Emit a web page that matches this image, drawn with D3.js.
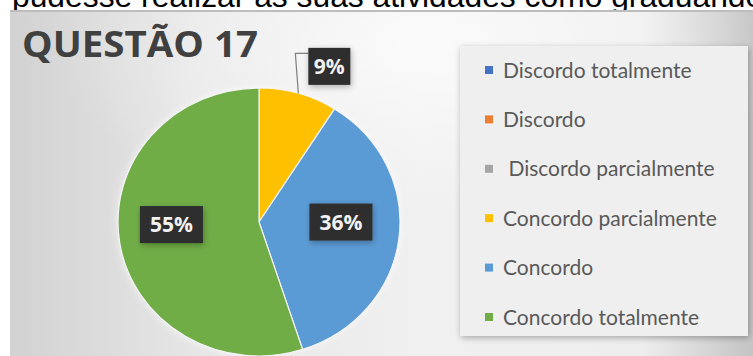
<!DOCTYPE html>
<html><head><meta charset="utf-8">
<script src="https://cdn.jsdelivr.net/npm/d3@7"></script>
<style>html,body{margin:0;padding:0;background:#fff;overflow:hidden}</style>
</head><body>
<svg id="c" width="753" height="356"></svg>
<script>
const headerText = "pudesse realizar as suas atividades como graduando";
const title = "QUESTÃO 17";
const categories = ["Discordo totalmente","Discordo"," Discordo parcialmente","Concordo parcialmente","Concordo","Concordo totalmente"];
const values = [0,0,0,9,36,55];
const colors = ["#4472C4","#ED7D31","#A5A5A5","#FFC000","#5B9BD5","#70AD47"];

const svg = d3.select("#c");
const defs = svg.append("defs");
const bg = defs.append("linearGradient").attr("id","bg").attr("x1","0").attr("x2","1").attr("y1","0").attr("y2","0");
bg.append("stop").attr("offset","0").attr("stop-color","#d2d2d2");
bg.append("stop").attr("offset","0.25").attr("stop-color","#e6e6e6");
bg.append("stop").attr("offset","0.55").attr("stop-color","#f0f0f0");
bg.append("stop").attr("offset","0.85").attr("stop-color","#eeeeee");
bg.append("stop").attr("offset","1").attr("stop-color","#c4c4c4");
const rg = defs.append("radialGradient").attr("id","hl").attr("cx","0.55").attr("cy","0.1").attr("r","0.5");
rg.append("stop").attr("offset","0").attr("stop-color","#ffffff").attr("stop-opacity",0.7);
rg.append("stop").attr("offset","1").attr("stop-color","#ffffff").attr("stop-opacity",0);
const sh = defs.append("filter").attr("id","sh").attr("x","-20%").attr("y","-20%").attr("width","140%").attr("height","140%");
sh.append("feGaussianBlur").attr("in","SourceAlpha").attr("stdDeviation",3).attr("result","b");
sh.append("feOffset").attr("in","b").attr("dx",1).attr("dy",2).attr("result","o");
sh.append("feComponentTransfer").attr("in","o").attr("result","o2").append("feFuncA").attr("type","linear").attr("slope",0.3);
const m = sh.append("feMerge"); m.append("feMergeNode").attr("in","o2"); m.append("feMergeNode").attr("in","SourceGraphic");
const glow = defs.append("filter").attr("id","glow").attr("x","-20%").attr("y","-20%").attr("width","140%").attr("height","140%");
glow.append("feGaussianBlur").attr("in","SourceAlpha").attr("stdDeviation",4).attr("result","b");
glow.append("feFlood").attr("flood-color","#ffffff").attr("flood-opacity",0.8).attr("result","f");
glow.append("feComposite").attr("in","f").attr("in2","b").attr("operator","in").attr("result","g");
const gm = glow.append("feMerge"); gm.append("feMergeNode").attr("in","g"); gm.append("feMergeNode").attr("in","SourceGraphic");

// header text (cut off at the top, as in the reference)
svg.append("text").attr("x",12).attr("y",7).attr("font-family","Liberation Sans, Arial, sans-serif")
  .attr("font-size",31.8).attr("fill","#000").text(headerText);

// chart area
const area = {x:10,y:10,w:743,h:346};
svg.append("rect").attr("x",area.x).attr("y",area.y).attr("width",area.w).attr("height",area.h).attr("fill","url(#bg)");
svg.append("rect").attr("x",area.x).attr("y",area.y).attr("width",area.w).attr("height",area.h).attr("fill","url(#hl)");
svg.append("rect").attr("x",area.x).attr("y",area.y).attr("width",area.w).attr("height",2).attr("fill","#bdbdbd");

// title
svg.append("text").attr("x",22).attr("y",57).attr("font-family","Open Sans, sans-serif").attr("font-weight",700)
  .attr("font-size",36).attr("fill","#404040").attr("textLength",236).attr("lengthAdjust","spacingAndGlyphs").text(title);

// legend panel
svg.append("rect").attr("x",460).attr("y",46).attr("width",288).attr("height",290).attr("fill","#efefef").attr("filter","url(#sh)");

// pie
const cx = 259, cy = 222, R = 141, sy = 0.95;
const pie = d3.pie().sort(null).value(d=>d)(values);
const arc = d3.arc().innerRadius(0).outerRadius(R);
const pg = svg.append("g").attr("transform",`translate(${cx},${cy}) scale(1,${sy})`);
pg.append("circle").attr("r",R).attr("fill","#fff").attr("filter","url(#glow)").attr("opacity",0.9);
pg.selectAll("path").data(pie).join("path").attr("d",arc).attr("fill",(d,i)=>colors[i])
  .attr("stroke","#f4f4f4").attr("stroke-width",1.2);

// labels
const fmt = v => v + "%";
const labelArc = d3.arc().innerRadius(R*0.6).outerRadius(R*0.6);
const edgeArc = d3.arc().innerRadius(R).outerRadius(R);
const lab = svg.append("g");
pie.forEach((d,i)=>{
  if (d.value === 0) return;
  let lx, ly;
  if (d.value < 15) {
    const e = edgeArc.centroid(d);
    const ex = cx + e[0], ey = cy + e[1]*sy;
    lx = ex + 31; ly = ey - 27;
    lab.append("polyline").attr("points",`${ex},${ey} ${ex-3},${ly-13} ${lx-21},${ly-13}`)
      .attr("fill","none").attr("stroke","#7f7f7f").attr("stroke-width",1.2);
  } else {
    const c = labelArc.centroid(d);
    lx = cx + c[0] + (c[0] < 0 ? -4 : -2); ly = cy + c[1]*sy - 10;
  }
  const t = fmt(d.value);
  const w = t.length === 2 ? 42 : 63, h = 37;
  lab.append("rect").attr("x",lx-w/2).attr("y",ly-h/2).attr("width",w).attr("height",h)
    .attr("fill","#2e2e2e").attr("filter","url(#sh)");
  lab.append("text").attr("x",lx).attr("y",ly).attr("dy","0.36em").attr("text-anchor","middle")
    .attr("font-family","Open Sans, sans-serif").attr("font-weight",700).attr("font-size",21)
    .attr("fill","#f2f2f2").text(t);
});

// legend
const ly0 = 70, lstep = 49.4;
const lg = svg.append("g");
categories.forEach((c,i)=>{
  const y = ly0 + i*lstep;
  lg.append("rect").attr("x",485).attr("y",y-4).attr("width",8).attr("height",8).attr("fill",colors[i]);
  lg.append("text").attr("x",503).attr("y",y).attr("dy","0.36em").attr("xml:space","preserve")
    .style("white-space","pre").attr("font-family","Lato, sans-serif").attr("font-size",21)
    .attr("fill","#595959").text(c);
});
</script>
</body></html>
